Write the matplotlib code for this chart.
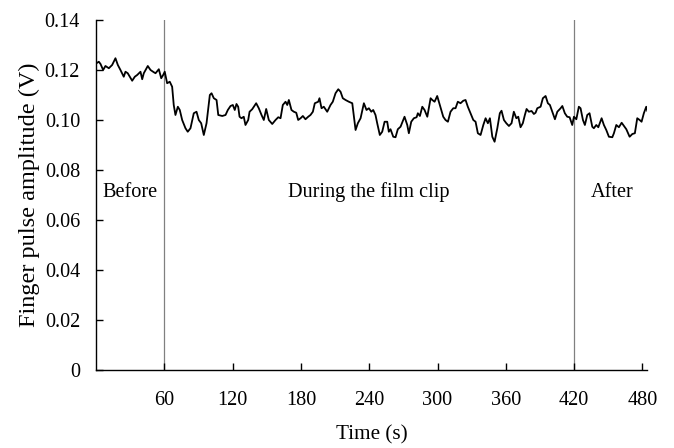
import matplotlib
matplotlib.use("Agg")
import matplotlib.pyplot as plt

# finger pulse amplitude trace
time_s = [0.4, 2.5, 4.0, 6.3, 8.3, 11.3, 14.2, 17.1, 19.2, 21.5, 24.4, 25.9, 27.9, 31.8,
          34.1, 36.2, 39.1, 40.6, 42.0, 45.5, 47.9, 50.8, 52.3, 55.2, 57.3, 59.0, 60.4,
          62.5, 64.8, 66.9, 68.3, 69.8, 71.9, 73.6, 75.7, 78.6, 80.6, 83.0, 85.9, 88.3,
          90.3, 92.4, 94.7, 97.1, 100.0, 101.5, 103.5, 105.9, 107.4, 110.9, 113.8, 115.8,
          118.2, 120.2, 121.9, 123.4, 124.9, 126.1, 127.8, 129.8, 131.3, 133.7, 134.9,
          137.2, 140.7, 143.0, 145.4, 147.4, 149.5, 151.8, 154.8, 157.7, 160.1, 162.1,
          164.1, 166.5, 168.0, 169.4, 171.7, 173.8, 175.9, 177.6, 179.7, 181.7, 184.0,
          186.4, 188.4, 190.5, 192.2, 195.2, 196.3, 198.1, 200.1, 203.1, 206.0, 208.0,
          210.4, 212.8, 214.8, 216.8, 219.2, 222.1, 225.1, 228.0, 230.0, 232.4, 235.3,
          237.6, 239.7, 241.8, 243.5, 245.5, 247.0, 249.3, 251.4, 253.5, 255.8, 257.2,
          258.7, 261.1, 263.1, 265.1, 267.5, 271.0, 273.4, 274.8, 276.9, 279.2, 281.6,
          282.7, 284.5, 286.6, 288.6, 291.0, 293.9, 295.4, 297.4, 299.7, 302.0, 305.0,
          307.0, 309.1, 311.4, 313.8, 315.8, 317.8, 320.2, 322.6, 324.6, 326.6, 329.0,
          331.4, 333.4, 335.4, 337.8, 340.2, 342.2, 344.2, 346.0, 348.1, 350.1, 352.5,
          354.7, 356.2, 358.3, 360.4, 362.7, 365.0, 367.0, 369.2, 370.9, 372.9, 374.9,
          376.7, 378.2, 380.2, 382.6, 384.6, 386.1, 387.6, 390.5, 392.5, 394.9, 396.9,
          398.7, 401.3, 403.1, 405.2, 408.1, 409.6, 411.8, 413.9, 416.0, 418.3, 419.8,
          421.9, 424.1, 425.6, 427.7, 429.4, 431.5, 433.5, 435.9, 437.3, 439.4, 441.2,
          444.1, 446.1, 448.2, 450.5, 453.5, 454.9, 457.0, 459.3, 461.7, 463.7, 465.8,
          468.7, 471.1, 473.3, 475.4, 477.5, 479.2, 481.2, 483.3, 484.2]
amplitude_v = [0.1227, 0.1233, 0.1224, 0.1200, 0.1216, 0.1207, 0.1220, 0.1247, 0.1220,
               0.1200, 0.1173, 0.1193, 0.1187, 0.1157, 0.1173, 0.1180, 0.1193, 0.1163,
               0.1187, 0.1216, 0.1200, 0.1191, 0.1187, 0.1203, 0.1167, 0.1180, 0.1193,
               0.1147, 0.1153, 0.1133, 0.1060, 0.1020, 0.1053, 0.1040, 0.1000, 0.0967,
               0.0953, 0.0967, 0.1027, 0.1033, 0.1000, 0.0987, 0.0940, 0.0987, 0.1100,
               0.1107, 0.1087, 0.1080, 0.1020, 0.1016, 0.1020, 0.1040, 0.1056, 0.1060,
               0.1040, 0.1064, 0.1053, 0.1013, 0.1007, 0.1013, 0.0980, 0.1000, 0.1033,
               0.1043, 0.1067, 0.1047, 0.1020, 0.1000, 0.1044, 0.1000, 0.0984, 0.1000,
               0.1011, 0.1007, 0.1060, 0.1073, 0.1060, 0.1080, 0.1040, 0.1033, 0.1029,
               0.1000, 0.1007, 0.1016, 0.1003, 0.1013, 0.1020, 0.1033, 0.1067, 0.1073,
               0.1087, 0.1047, 0.1053, 0.1033, 0.1060, 0.1073, 0.1107, 0.1123, 0.1113,
               0.1087, 0.1080, 0.1073, 0.1067, 0.0960, 0.0987, 0.1007, 0.1067, 0.1040,
               0.1047, 0.1033, 0.1040, 0.1020, 0.0987, 0.0940, 0.0953, 0.0993, 0.0993,
               0.0953, 0.0963, 0.0933, 0.0931, 0.0963, 0.0973, 0.1013, 0.0980, 0.0947,
               0.0993, 0.1007, 0.1011, 0.1027, 0.1016, 0.1053, 0.1040, 0.1013, 0.1087,
               0.1080, 0.1073, 0.1096, 0.1060, 0.1013, 0.1000, 0.0993, 0.1033, 0.1047,
               0.1047, 0.1073, 0.1067, 0.1077, 0.1080, 0.1053, 0.1027, 0.1000, 0.0993,
               0.0947, 0.0940, 0.0980, 0.1007, 0.0987, 0.1007, 0.0933, 0.0913, 0.0967,
               0.1027, 0.1037, 0.1000, 0.0987, 0.0976, 0.0987, 0.1033, 0.1007, 0.1013,
               0.0971, 0.0987, 0.1020, 0.1044, 0.1033, 0.1036, 0.1024, 0.1029, 0.1047,
               0.1053, 0.1087, 0.1096, 0.1067, 0.1060, 0.1027, 0.1003, 0.1033, 0.1047,
               0.1056, 0.1027, 0.1013, 0.1011, 0.0980, 0.1013, 0.1003, 0.1053, 0.1047,
               0.1000, 0.0980, 0.1020, 0.1027, 0.0973, 0.0967, 0.0980, 0.0971, 0.1007,
               0.0980, 0.0960, 0.0933, 0.0931, 0.0947, 0.0980, 0.0971, 0.0989, 0.0976,
               0.0963, 0.0933, 0.0944, 0.0947, 0.1007, 0.1000, 0.0993, 0.1027, 0.1053,
               0.1037]

phase_bounds = [60, 420]
phase_labels = ["Before", "During the film clip", "After"]
phase_label_x = [30, 240, 453]
phase_label_y = 0.071

x_ticks = [60, 120, 180, 240, 300, 360, 420, 480]
y_ticks = [0, 0.02, 0.04, 0.06, 0.08, 0.10, 0.12, 0.14]
y_tick_labels = ["0", "0.02", "0.04", "0.06", "0.08", "0.10", "0.12", "0.14"]

plt.rcParams['font.family'] = ['Liberation Serif', 'DejaVu Serif']
fs = 14.6

fig = plt.figure(figsize=(6.74, 4.48), dpi=100)
ax = fig.add_axes([0.1424, 0.1741, 0.8176, 0.7813])

for b in phase_bounds:
    ax.axvline(b, color='#808080', lw=0.9, zorder=1)
ax.plot(time_s, amplitude_v, color='black', lw=1.3, zorder=2)

for lab, xx in zip(phase_labels, phase_label_x):
    ax.text(xx, phase_label_y, lab, ha='center', va='center', fontsize=fs)

ax.set_xlim(0, 484)
ax.set_ylim(0, 0.14)
ax.set_xticks(x_ticks)
ax.set_yticks(y_ticks)
ax.set_yticklabels(y_tick_labels)
ax.tick_params(direction='in', length=5, width=1, labelsize=fs)
ax.tick_params(axis='y', pad=11.5)
ax.tick_params(axis='x', pad=15)
for s in ['top', 'right']:
    ax.spines[s].set_visible(False)
for s in ['left', 'bottom']:
    ax.spines[s].set_linewidth(1)

ax.set_xlabel('Time (s)', fontsize=15.2, labelpad=11)
ax.set_ylabel('Finger pulse amplitude (V)', fontsize=17.5, labelpad=3)

fig.savefig('out.png', dpi=100)
